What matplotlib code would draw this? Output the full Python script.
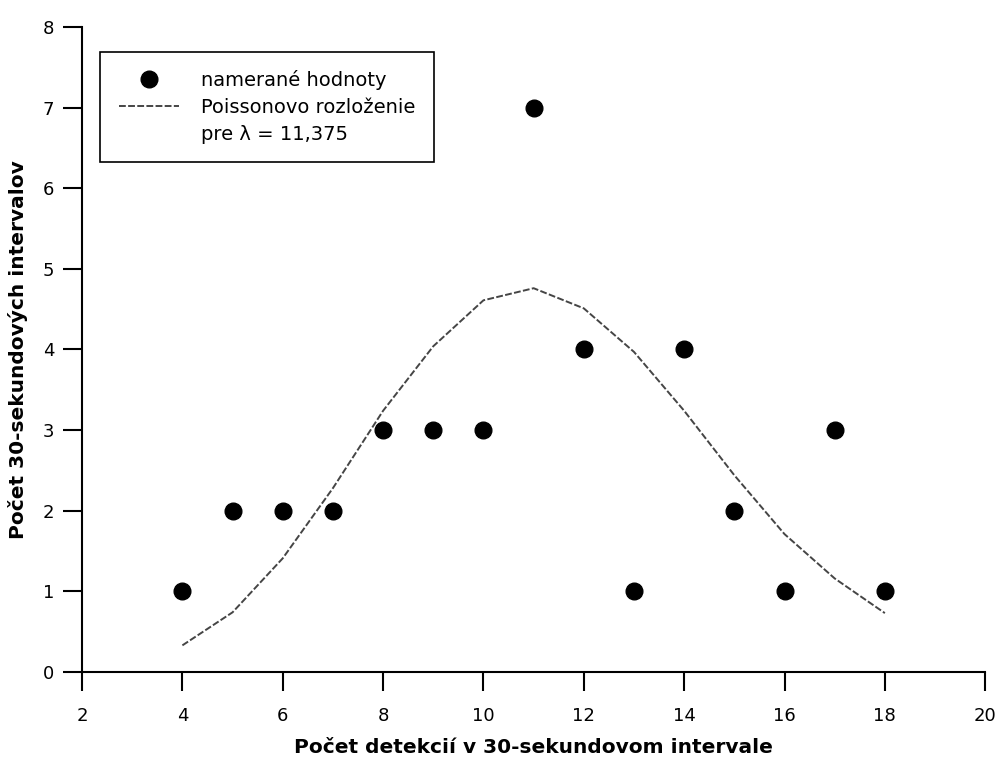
import matplotlib.pyplot as plt
from matplotlib.lines import Line2D

# namerane hodnoty
x_meas = [4, 5, 6, 7, 8, 9, 10, 11, 12, 13, 14, 15, 16, 17, 18]
y_meas = [1, 2, 2, 2, 3, 3, 3, 7, 4, 1, 4, 2, 1, 3, 1]

# Poissonovo rozlozenie (odcitane z grafu)
x_pois = [4, 5, 6, 7, 8, 9, 10, 11, 12, 13, 14, 15, 16, 17, 18]
y_pois = [0.33, 0.74, 1.41, 2.28, 3.24, 4.04, 4.61, 4.76, 4.51, 3.97, 3.24, 2.44, 1.71, 1.16, 0.73]

xticks = [2, 4, 6, 8, 10, 12, 14, 16, 18, 20]
yticks = [0, 1, 2, 3, 4, 5, 6, 7, 8]

plt.rcParams['font.family'] = ['DejaVu Sans']

fig = plt.figure(figsize=(9.98, 7.67), dpi=100)
ax = fig.add_axes([0.0822, 0.1239, 0.905, 0.8409])

ax.plot(x_pois, y_pois, color='#454545', lw=1.4, dashes=(3.5, 1.2))
ax.plot(x_meas, y_meas, 'o', color='black', ms=12, ls='none')

ax.set_xlim(2, 20)
ax.set_ylim(0, 8)
ax.set_xticks(xticks)
ax.set_yticks(yticks)
ax.spines['top'].set_visible(False)
ax.spines['right'].set_visible(False)
for s in ('left', 'bottom'):
    ax.spines[s].set_linewidth(1.5)
ax.tick_params(direction='out', length=14, width=1.5, labelsize=13)
ax.tick_params(axis='x', pad=11)
ax.tick_params(axis='y', pad=6)

ax.set_xlabel('Počet detekcií v 30-sekundovom intervale', fontsize=14.5, fontweight='bold')
ax.set_ylabel('Počet 30-sekundových intervalov', fontsize=14.5, fontweight='bold')
ax.xaxis.set_label_coords(0.5, -0.102)
ax.yaxis.set_label_coords(-0.06, 0.5)

handles = [
    Line2D([], [], marker='o', color='black', ms=12, ls='none'),
    Line2D([], [], color='#454545', lw=1.4, dashes=(3.5, 1.2)),
    Line2D([], [], ls='none'),
]
labels = ['namerané hodnoty', 'Poissonovo rozloženie', 'pre λ = 11,375']
leg = ax.legend(handles, labels, loc='upper left', bbox_to_anchor=(0.02, 0.962),
                fontsize=14, frameon=True, fancybox=False, framealpha=1,
                edgecolor='black', handlelength=3.1, handletextpad=1.15,
                labelspacing=0.4, borderpad=0.95, borderaxespad=0)
leg.get_frame().set_linewidth(1.2)

fig.savefig('out.png', dpi=100)
